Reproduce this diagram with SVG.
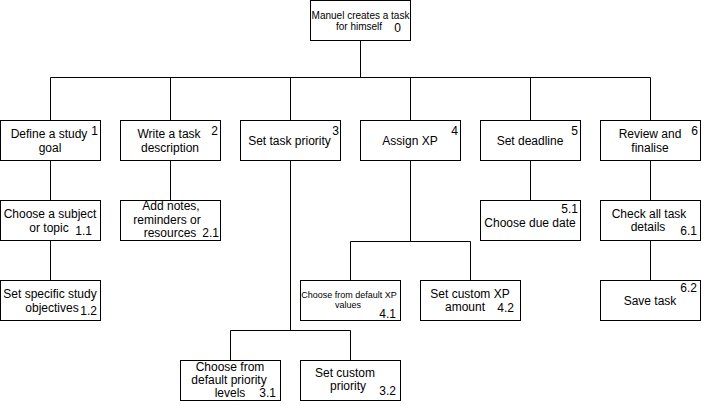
<svg xmlns="http://www.w3.org/2000/svg" width="712" height="406" viewBox="0 0 712 406">
<style>
  rect.box { fill: #ffffff; stroke: #000000; stroke-width: 1; }
  .t { font-family: "Liberation Sans", Arial, sans-serif; font-size: 12px; fill: #000000; text-anchor: middle; }
  .s { font-family: "Liberation Sans", Arial, sans-serif; font-size: 10px; fill: #000000; text-anchor: middle; }
  .xs { font-family: "Liberation Sans", Arial, sans-serif; font-size: 9px; fill: #000000; text-anchor: middle; }
  .n { font-family: "Liberation Sans", Arial, sans-serif; font-size: 12px; fill: #000000; text-anchor: end; }
  .c { fill: none; stroke: #000000; stroke-width: 1; }
</style>
<rect width="712" height="406" fill="#ffffff"/>
<g id="connectors">
  <path class="c" d="M360.5 40.5 V77.5"/>
  <path class="c" d="M50.5 77.5 H650.5"/>
  <path class="c" d="M50.5 77.5 V120.5 M170.5 77.5 V120.5 M290.5 77.5 V120.5 M410.5 77.5 V120.5 M530.5 77.5 V120.5 M650.5 77.5 V120.5"/>
  <path class="c" d="M50.5 160.5 V200.5 M50.5 240.5 V280.5"/>
  <path class="c" d="M170.5 160.5 V200.5"/>
  <path class="c" d="M290.5 160.5 V330.5 M230.5 330.5 H350.5 M230.5 330.5 V360.5 M350.5 330.5 V360.5"/>
  <path class="c" d="M410.5 160.5 V241.5 M350.5 241.5 H470.5 M350.5 241.5 V280.5 M470.5 241.5 V280.5"/>
  <path class="c" d="M530.5 160.5 V200.5"/>
  <path class="c" d="M650.5 160.5 V200.5 M650.5 240.5 V280.5"/>
</g>
<g id="node-0">
  <rect class="box" x="310.5" y="0.5" width="100" height="40"/>
  <text class="s" x="360.5" y="19">Manuel creates a task</text>
  <text class="s" x="359" y="30">for himself</text>
  <text class="n" x="401" y="32">0</text>
</g>
<g id="node-1">
  <rect class="box" x="0.5" y="120.5" width="100" height="40"/>
  <text class="t" x="49" y="138">Define a study</text>
  <text class="t" x="50" y="152">goal</text>
  <text class="n" x="98" y="135">1</text>
</g>
<g id="node-2">
  <rect class="box" x="120.5" y="120.5" width="100" height="40"/>
  <text class="t" x="169" y="138">Write a task</text>
  <text class="t" x="170" y="152">description</text>
  <text class="n" x="218" y="135">2</text>
</g>
<g id="node-3">
  <rect class="box" x="240.5" y="120.5" width="100" height="40"/>
  <text class="t" x="289.5" y="145">Set task priority</text>
  <text class="n" x="339" y="135">3</text>
</g>
<g id="node-4">
  <rect class="box" x="360.5" y="120.5" width="100" height="40"/>
  <text class="t" x="410" y="145">Assign XP</text>
  <text class="n" x="458" y="135">4</text>
</g>
<g id="node-5">
  <rect class="box" x="480.5" y="120.5" width="100" height="40"/>
  <text class="t" x="530" y="145">Set deadline</text>
  <text class="n" x="578" y="135">5</text>
</g>
<g id="node-6">
  <rect class="box" x="600.5" y="120.5" width="100" height="40"/>
  <text class="t" x="650" y="138">Review and</text>
  <text class="t" x="650" y="152">finalise</text>
  <text class="n" x="698" y="135">6</text>
</g>
<g id="node-1-1">
  <rect class="box" x="0.5" y="200.5" width="100" height="40"/>
  <text class="t" x="50" y="218">Choose a subject</text>
  <text class="t" x="49" y="232">or topic</text>
  <text class="n" x="92" y="235">1.1</text>
</g>
<g id="node-1-2">
  <rect class="box" x="0.5" y="280.5" width="100" height="40"/>
  <text class="t" x="50" y="298">Set specific study</text>
  <text class="t" x="52" y="312">objectives</text>
  <text class="n" x="97" y="315">1.2</text>
</g>
<g id="node-2-1">
  <rect class="box" x="120.5" y="200.5" width="100" height="40"/>
  <text class="t" x="171" y="210">Add notes,</text>
  <text class="t" x="167" y="223.5">reminders or</text>
  <text class="t" x="170" y="237">resources</text>
  <text class="n" x="219" y="237">2.1</text>
</g>
<g id="node-5-1">
  <rect class="box" x="480.5" y="200.5" width="100" height="40"/>
  <text class="n" x="578" y="212.5">5.1</text>
  <text class="t" x="530" y="227">Choose due date</text>
</g>
<g id="node-6-1">
  <rect class="box" x="600.5" y="200.5" width="100" height="40"/>
  <text class="t" x="649" y="218">Check all task</text>
  <text class="t" x="648" y="231">details</text>
  <text class="n" x="697" y="235">6.1</text>
</g>
<g id="node-6-2">
  <rect class="box" x="600.5" y="280.5" width="100" height="40"/>
  <text class="n" x="697" y="292">6.2</text>
  <text class="t" x="650" y="305">Save task</text>
</g>
<g id="node-4-1">
  <rect class="box" x="300.5" y="280.5" width="100" height="40"/>
  <text class="xs" x="349" y="298">Choose from default XP</text>
  <text class="xs" x="348" y="308">values</text>
  <text class="n" x="396" y="318">4.1</text>
</g>
<g id="node-4-2">
  <rect class="box" x="420.5" y="280.5" width="100" height="40"/>
  <text class="t" x="470" y="298">Set custom XP</text>
  <text class="t" x="465" y="311">amount</text>
  <text class="n" x="514" y="312">4.2</text>
</g>
<g id="node-3-1">
  <rect class="box" x="180.5" y="360.5" width="100" height="40"/>
  <text class="t" x="230" y="371">Choose from</text>
  <text class="t" x="229" y="384">default priority</text>
  <text class="t" x="230" y="397">levels</text>
  <text class="n" x="276" y="397">3.1</text>
</g>
<g id="node-3-2">
  <rect class="box" x="300.5" y="360.5" width="100" height="40"/>
  <text class="t" x="345" y="377">Set custom</text>
  <text class="t" x="348" y="390">priority</text>
  <text class="n" x="396" y="395">3.2</text>
</g>
</svg>
